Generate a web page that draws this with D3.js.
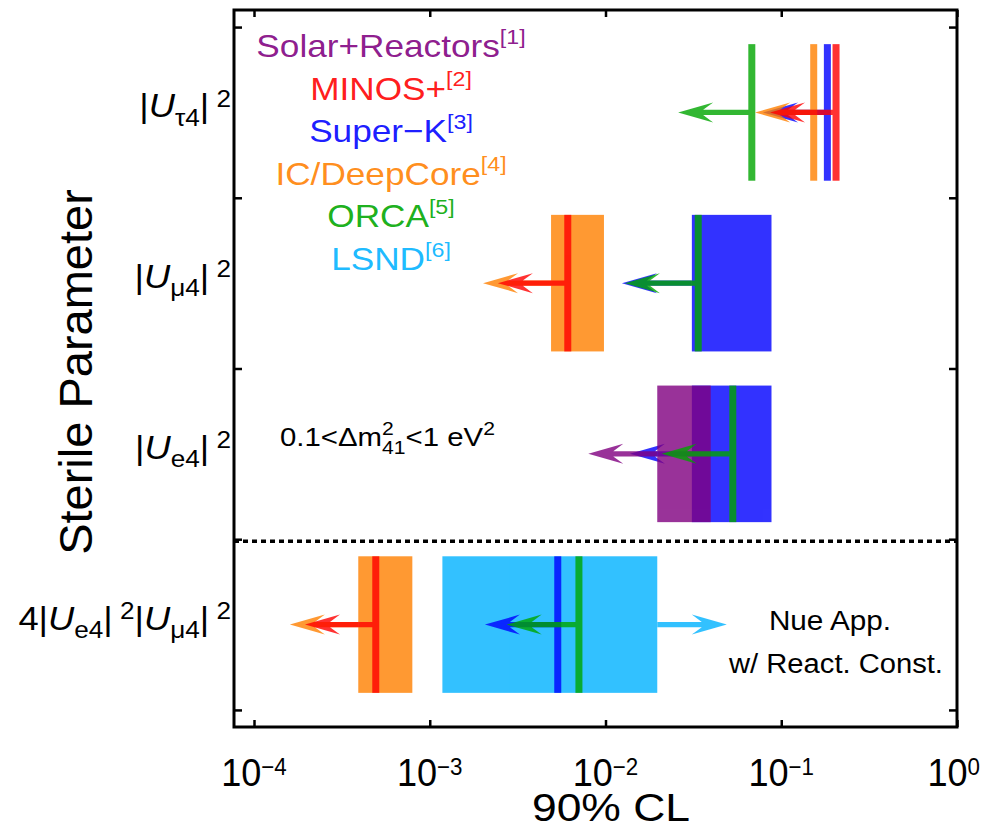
<!DOCTYPE html>
<html>
<head>
<meta charset="utf-8">
<script src="https://cdn.jsdelivr.net/npm/d3@7"></script>
<style>
  body { margin: 0; background: #fff; }
  text { font-family: "Liberation Sans", Arial, Helvetica, sans-serif; }
</style>
</head>
<body>
<svg id="chart" width="982" height="831"></svg>
<script>
// ---- data -------------------------------------------------------------
// Rows of the chart, top to bottom (row index 1..4 on the y scale)
const rowKeys = ["tau", "mu", "e", "app"];
// Row labels as [text, style] pieces: "" normal, "i" italic, "sub", "sup"
const rowLabels = [
  [["|", ""], ["U", "i"], ["\u03c44", "sub"], ["|", ""], [" 2", "sup"]],
  [["|", ""], ["U", "i"], ["\u03bc4", "sub"], ["|", ""], [" 2", "sup"]],
  [["|", ""], ["U", "i"], ["e4", "sub"], ["|", ""], [" 2", "sup"]],
  [["4|", ""], ["U", "i"], ["e4", "sub"], ["|", ""], [" 2", "sup"], ["|", ""], ["U", "i"], ["\u03bc4", "sub"], ["|", ""], [" 2", "sup"]]
];

const experiments = ["Solar+Reactors", "MINOS+", "Super\u2212K", "IC/DeepCore", "ORCA", "LSND"];
const references  = ["[1]", "[2]", "[3]", "[4]", "[5]", "[6]"];

const xTickValues    = [1e-4, 1e-3, 1e-2, 1e-1, 1];
const xTickExponents = ["\u22124", "\u22123", "\u22122", "\u22121", "0"];

// 90% CL limits drawn as vertical lines: [row, experiment, value]
const limitLines = [
  ["tau", "ORCA",           0.068],
  ["tau", "IC/DeepCore",    0.153],
  ["tau", "Super\u2212K",   0.183],
  ["tau", "MINOS+",         0.205],
  ["mu",  "MINOS+",         0.0061],
  ["mu",  "ORCA",           0.0337],
  ["e",   "ORCA",           0.053],
  ["app", "MINOS+",         4.93e-4],
  ["app", "Super\u2212K",   5.35e-3],
  ["app", "ORCA",           7.06e-3]
];

// Limit ranges drawn as bands: [row, experiment, low, high]
const limitBands = [
  ["mu",  "IC/DeepCore",    0.0049,  0.0098],
  ["mu",  "Super\u2212K",   0.031,   0.088],
  ["e",   "Super\u2212K",   0.031,   0.088],
  ["e",   "Solar+Reactors", 0.0197,  0.0397],
  ["app", "IC/DeepCore",    3.92e-4, 7.96e-4],
  ["app", "LSND",           1.18e-3, 0.0197]
];

// Exclusion arrows: [row, experiment, from, to]
const limitArrows = [
  ["tau", "ORCA",           0.068,   0.0259],
  ["tau", "IC/DeepCore",    0.153,   0.071],
  ["tau", "Super\u2212K",   0.183,   0.0787],
  ["tau", "MINOS+",         0.205,   0.0863],
  ["mu",  "IC/DeepCore",    0.0049,  0.00201],
  ["mu",  "MINOS+",         0.0061,  0.00244],
  ["mu",  "Super\u2212K",   0.031,   0.0124],
  ["mu",  "ORCA",           0.0337,  0.0129],
  ["e",   "Solar+Reactors", 0.0197,  0.00798],
  ["e",   "Super\u2212K",   0.031,   0.01377],
  ["e",   "ORCA",           0.053,   0.0209],
  ["app", "IC/DeepCore",    3.92e-4, 1.60e-4],
  ["app", "MINOS+",         4.93e-4, 1.95e-4],
  ["app", "Super\u2212K",   5.35e-3, 2.06e-3],
  ["app", "ORCA",           7.06e-3, 2.74e-3],
  ["app", "LSND",           0.0197,  0.049]
];

// ---- styles -----------------------------------------------------------
const expColor = {
  "Solar+Reactors": "rgb(128,0,128)",
  "MINOS+":         "rgb(255,0,0)",
  "Super\u2212K":   "rgb(0,0,255)",
  "IC/DeepCore":    "rgb(255,128,0)",
  "ORCA":           "rgb(0,166,0)",
  "LSND":           "rgb(0,178,255)"
};
const drawOrder = ["LSND", "Super\u2212K", "Solar+Reactors", "IC/DeepCore", "MINOS+", "ORCA"];

const plot = { left: 234, right: 957, top: 10, bottom: 727 };

const svg = d3.select("#chart");

const x = d3.scaleLog()
  .domain([Math.pow(10, -4 - 20 / 175.75), 1])
  .range([plot.left, plot.right]);

const y = d3.scaleLinear()
  .domain([0.4, 4.6])
  .range([plot.top, plot.bottom]);

const rowY = key => y(rowKeys.indexOf(key) + 1);
const halfBand = 0.4;
const bandHalfPx = () => y(1 + halfBand) - y(1);

// text placed at (px, py) with an optional horizontal stretch
function placeText(px, py, sx, size) {
  return svg.append("text")
    .attr("transform", `translate(${px},${py}) scale(${sx},1)`)
    .attr("font-size", size).attr("fill", "#000");
}

// rich text helper (italic / sub / superscripts as tspans)
function addRich(textSel, parts, size, subScale, subShift, supShift) {
  let shift = 0;
  parts.forEach(([s, kind]) => {
    const target = kind === "sub" ? subShift * size : kind === "sup" ? -supShift * size : 0;
    const ts = textSel.append("tspan").attr("dy", target - shift).text(s);
    shift = target;
    if (kind === "sub" || kind === "sup") ts.attr("font-size", size * subScale);
    if (kind === "i") ts.attr("font-style", "italic");
  });
}

// ---- marks ------------------------------------------------------------
const marks = svg.append("g");

function arrowPath(x0, x1, yc) {
  const dir = x0 > x1 ? 1 : -1;   // +1 when the head points left
  const L = 35, W = 10, N = 25, s = 2.6;
  const p = [
    [x1, yc],
    [x1 + dir * L, yc - W],
    [x1 + dir * N, yc - s],
    [x0, yc - s],
    [x0, yc + s],
    [x1 + dir * N, yc + s],
    [x1 + dir * L, yc + W]
  ];
  return "M" + p.map(d => d.join(",")).join("L") + "Z";
}

drawOrder.forEach(exp => {
  const g = marks.append("g").attr("opacity", 0.8).attr("fill", expColor[exp]);

  g.selectAll("rect.band")
    .data(limitBands.filter(d => d[1] === exp))
    .join("rect")
    .attr("class", "band")
    .attr("x", d => x(d[2]))
    .attr("width", d => x(d[3]) - x(d[2]))
    .attr("y", d => rowY(d[0]) - bandHalfPx())
    .attr("height", 2 * bandHalfPx());

  g.selectAll("path.arrow")
    .data(limitArrows.filter(d => d[1] === exp))
    .join("path")
    .attr("class", "arrow")
    .attr("d", d => arrowPath(x(d[2]), x(d[3]), rowY(d[0])));

  g.selectAll("rect.line")
    .data(limitLines.filter(d => d[1] === exp))
    .join("rect")
    .attr("class", "line")
    .attr("x", d => x(d[2]) - 3.5)
    .attr("width", 7)
    .attr("y", d => rowY(d[0]) - bandHalfPx())
    .attr("height", 2 * bandHalfPx());
});

// dashed separator between mixing elements and appearance product
svg.append("line")
  .attr("x1", plot.left).attr("x2", plot.right)
  .attr("y1", y(3.5) + 2).attr("y2", y(3.5) + 2)
  .attr("stroke", "#000").attr("stroke-width", 3.5)
  .attr("stroke-dasharray", "5,4");

// ---- axes -------------------------------------------------------------
const axStyle = g => {
  g.select(".domain").remove();
  g.selectAll(".tick line").attr("stroke", "#000").attr("stroke-width", 2.5);
  g.selectAll(".tick text").remove();
};
svg.append("g").attr("transform", `translate(0,${plot.bottom})`)
  .call(d3.axisBottom(x).tickValues(xTickValues).tickSize(-7).tickFormat(""))
  .call(axStyle);
svg.append("g").attr("transform", `translate(0,${plot.top})`)
  .call(d3.axisTop(x).tickValues(xTickValues).tickSize(-7).tickFormat(""))
  .call(axStyle);
const yTicks = [0.5, 1.5, 2.5, 3.5, 4.5];
svg.append("g").attr("transform", `translate(${plot.left},0)`)
  .call(d3.axisLeft(y).tickValues(yTicks).tickSize(-8).tickFormat(""))
  .call(axStyle);
svg.append("g").attr("transform", `translate(${plot.right},0)`)
  .call(d3.axisRight(y).tickValues(yTicks).tickSize(-8).tickFormat(""))
  .call(axStyle);

// frame
svg.append("rect")
  .attr("x", plot.left).attr("y", plot.top)
  .attr("width", plot.right - plot.left).attr("height", plot.bottom - plot.top)
  .attr("fill", "none").attr("stroke", "#000").attr("stroke-width", 3);

// x tick labels: 10^n (kept inside the page at the right edge)
xTickValues.forEach((v, i) => {
  const t = placeText(x(v), 786, 0.95, 38).attr("text-anchor", "middle");
  addRich(t, [["10", ""], [xTickExponents[i], "sup"]], 38, 0.62, 0, 0.3);
  const bb = t.node().getBoundingClientRect();
  if (bb.right > 980) {
    t.attr("transform", `translate(${x(v) - (bb.right - 980)},786) scale(0.95,1)`);
  }
});

// row labels
rowLabels.forEach((parts, i) => {
  const t = placeText(231, y(i + 1) + 5, 1.1, 33).attr("text-anchor", "end");
  addRich(t, parts, 33, 0.72, 0.25, 0.33);
});

// axis titles
placeText(611, 821, 1.17, 38).attr("text-anchor", "middle").text("90% CL");
svg.append("text")
  .attr("transform", "translate(92,372) rotate(-90)")
  .attr("text-anchor", "middle")
  .attr("font-size", 47).attr("fill", "#000")
  .text("Sterile Parameter");

// legend
experiments.forEach((name, i) => {
  const t = placeText(391, 57 + i * 42.6, 1.1, 32)
    .attr("text-anchor", "middle")
    .attr("fill", expColor[name]).attr("fill-opacity", 0.9);
  addRich(t, [[name, ""], [references[i], "sup"]], 32, 0.66, 0, 0.42);
});

// mass-splitting range note
const ns = 26;
const note = placeText(280, 446, 1.13, ns);
note.append("tspan").text("0.1<\u0394m");
note.append("tspan").attr("font-size", ns * 0.72).attr("dy", -0.42 * ns).text("2");
note.append("tspan").attr("font-size", ns * 0.72).attr("dx", -ns * 0.72 * 0.556).attr("dy", 0.72 * ns).text("41");
note.append("tspan").attr("dy", -0.3 * ns).text("<1 eV");
note.append("tspan").attr("font-size", ns * 0.72).attr("dy", -0.42 * ns).text("2");

// appearance note
placeText(830, 630, 1.1, 27).attr("text-anchor", "middle").text("Nue App.");
placeText(836, 673, 1.08, 27).attr("text-anchor", "middle").text("w/ React. Const.");
</script>
</body>
</html>
